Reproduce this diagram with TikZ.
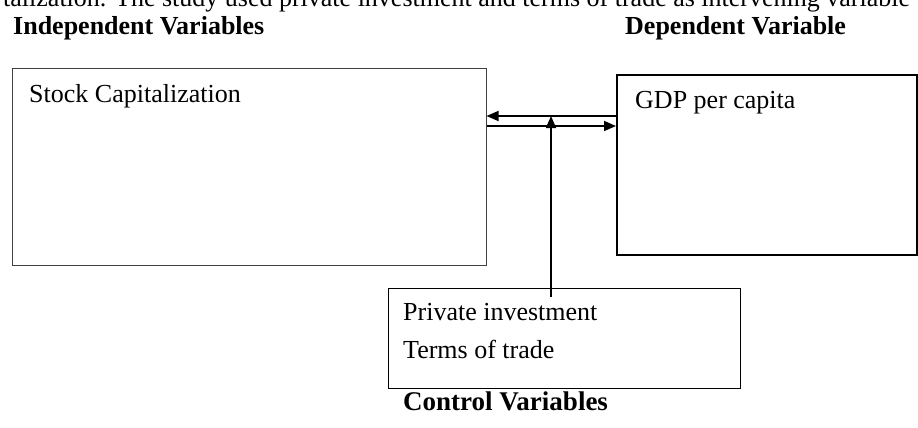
\documentclass[tikz,border=0pt]{standalone}
\usepackage{fontspec}
\setmainfont{Liberation Serif}
\usetikzlibrary{arrows.meta,positioning,calc}
\tikzset{
	box/.style={draw, line width=1pt, inner sep=0pt},
	txt/.style={inner sep=0pt, anchor=base west, font=\fontsize{26}{30}\selectfont},
	head/.style={txt, font=\fontsize{26}{30}\selectfont\bfseries},
	link/.style={line width=1.6pt, -{Triangle[length=12pt,width=10pt]}}
}

\begin{document}
\begin{tikzpicture}[x=1pt,y=-1pt]
	\useasboundingbox (0,0) rectangle (918,428);
	\clip (0,0) rectangle (918,428);

	\node[txt] (intro) at (3,6.5) {talization. The study used private investment and terms of trade as intervening variable};
	\node[head] (indephead) at (13,35) {Independent Variables};
	\node[head] (dephead) at (625,35) {Dependent Variable};

	\node[box, draw=black!75, minimum width=474pt, minimum height=196pt] (stock) at (249,167) {};
	\node[box, line width=2pt, minimum width=300pt, minimum height=180pt] (gdp) at (767,165) {};
	\node[box, minimum width=352pt, minimum height=100pt] (ctrl) at (564,338) {};

	\node[txt] (stocktxt) at (29,102) {Stock Capitalization};
	\node[txt] (gdptxt) at (635,108) {GDP per capita};
	\node[txt] (invtxt) at (403,320) {Private investment};
	\node[txt] (tottxt) at (403,358) {Terms of trade};
	\node[head, font=\fontsize{27}{31}\selectfont\bfseries] (ctrlhead) at (403,410) {Control Variables};

	\coordinate (upper) at (0,116);
	\coordinate (lower) at (0,126);
	\coordinate (mid) at ($(ctrl.north)+(-13,9)$);

	\draw[link] (gdp.west |- upper) -- (stock.east |- upper);
	\draw[link] (stock.east |- lower) -- (gdp.west |- lower);
	\draw[link] (mid) -- (mid |- upper);
\end{tikzpicture}
\end{document}
